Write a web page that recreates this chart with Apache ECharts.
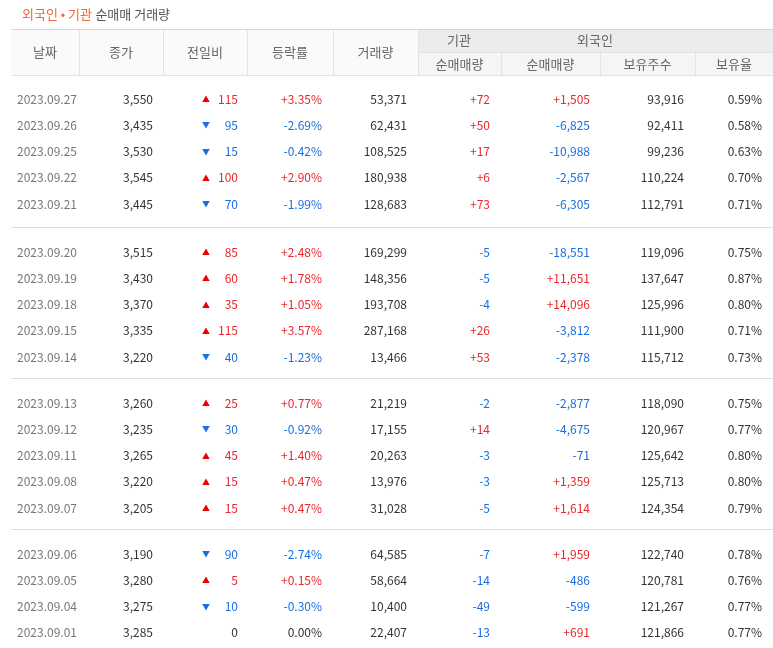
<!DOCTYPE html>
<html>
<head>
<meta charset="utf-8">
<script src="https://cdn.jsdelivr.net/npm/echarts@6/dist/echarts.min.js"></script>
</head>
<body style="margin:0;padding:0;background:#fff;">
<div id="main" style="width:773px;height:648px;"></div>
<script>
// 표 데이터
var dates = ['2023.09.27','2023.09.26','2023.09.25','2023.09.22','2023.09.21','2023.09.20','2023.09.19','2023.09.18','2023.09.15','2023.09.14','2023.09.13','2023.09.12','2023.09.11','2023.09.08','2023.09.07','2023.09.06','2023.09.05','2023.09.04','2023.09.01'];
var closes = [3550,3435,3530,3545,3445,3515,3430,3370,3335,3220,3260,3235,3265,3220,3205,3190,3280,3275,3285];
var changes = [115,-95,-15,100,-70,85,60,35,115,-40,25,-30,45,15,15,-90,5,-10,0];
var rates = [3.35,-2.69,-0.42,2.90,-1.99,2.48,1.78,1.05,3.57,-1.23,0.77,-0.92,1.40,0.47,0.47,-2.74,0.15,-0.30,0.00];
var volumes = [53371,62431,108525,180938,128683,169299,148356,193708,287168,13466,21219,17155,20263,13976,31028,64585,58664,10400,22407];
var instNet = [72,50,17,6,73,-5,-5,-4,26,53,-2,14,-3,-3,-5,-7,-14,-49,-13];
var forNet = [1505,-6825,-10988,-2567,-6305,-18551,11651,14096,-3812,-2378,-2877,-4675,-71,1359,1614,1959,-486,-599,691];
var forHold = [93916,92411,99236,110224,112791,119096,137647,125996,111900,115712,118090,120967,125642,125713,124354,122740,120781,121267,121866];
var forRatio = [0.59,0.58,0.63,0.70,0.71,0.75,0.87,0.80,0.71,0.73,0.75,0.77,0.80,0.80,0.79,0.78,0.76,0.77,0.77];

var RED = '#e8262c', BLUE = '#1a6fe0', GRAY = '#333', FONT = '"Noto Sans CJK KR", sans-serif';
function fmt(n) { return Math.abs(n).toLocaleString('en-US'); }
function sgn(n) { return n > 0 ? '+' + fmt(n) : n < 0 ? '-' + fmt(n) : '0'; }
function col(n) { return n > 0 ? RED : n < 0 ? BLUE : GRAY; }

var g = [];
function txt(x, y, s, color, align, size) {
    g.push({ type: 'text', x: x, y: y, style: { text: s, fill: color, align: align || 'right', verticalAlign: 'middle', font: (size || 12) + 'px ' + FONT } });
}
function rect(x, y, w, h, fill) { g.push({ type: 'rect', shape: { x: x, y: y, width: w, height: h }, style: { fill: fill } }); }
function line(x1, y1, x2, y2, c) { g.push({ type: 'line', shape: { x1: x1 + 0.5, y1: y1 + 0.5, x2: x2 + 0.5, y2: y2 + 0.5 }, style: { stroke: c, lineWidth: 1 } }); }

// 제목
g.push({ type: 'text', x: 22, y: 14, style: { rich: { a: { fill: '#f26a3d', font: '13px ' + FONT }, b: { fill: '#555', font: '13px ' + FONT } }, text: '{a|외국인 • 기관} {b|순매매 거래량}', verticalAlign: 'middle' } });

// 헤더
var cx = [11, 79, 163, 247, 333, 418, 501, 600, 695, 773];
rect(11, 29, 407, 46, '#fafafa');
rect(418, 29, 355, 23, '#ececec');
rect(418, 52, 355, 23, '#f5f5f5');
line(11, 29, 773, 29, '#d4d4d4');
line(11, 75, 773, 75, '#e2e2e2');
line(418, 52, 773, 52, '#e2e2e2');
for (var i = 1; i < cx.length - 1; i++) {
    line(cx[i], i >= 6 ? 52 : 29, cx[i], 75, '#e2e2e2');
}
var heads = ['날짜', '종가', '전일비', '등락률', '거래량'];
for (var i = 0; i < 5; i++) txt((cx[i] + cx[i + 1]) / 2, 52, heads[i], '#666', 'center', 13);
txt(459, 40, '기관', '#666', 'center', 13);
txt(595, 40, '외국인', '#666', 'center', 13);
var subs = ['순매매량', '순매매량', '보유주수', '보유율'];
for (var i = 0; i < 4; i++) txt((cx[i + 5] + cx[i + 6]) / 2, 64, subs[i], '#666', 'center', 13);

// 행
var groupTop = [99, 252, 403, 554];
for (var r = 0; r < dates.length; r++) {
    var gi = Math.floor(r / 5), y = groupTop[gi] + (r % 5) * 26.3;
    txt(17, y, dates[r], '#777', 'left', 12);
    txt(153, y, fmt(closes[r]), GRAY);
    var c = changes[r];
    if (c !== 0) txt(206, y, c > 0 ? '▲' : '▼', c > 0 ? '#e00' : BLUE, 'center', 8);
    txt(238, y, fmt(c), col(c));
    txt(322, y, (rates[r] > 0 ? '+' : '') + rates[r].toFixed(2) + '%', col(rates[r]));
    txt(407, y, fmt(volumes[r]), GRAY);
    txt(490, y, sgn(instNet[r]), col(instNet[r]));
    txt(590, y, sgn(forNet[r]), col(forNet[r]));
    txt(684, y, fmt(forHold[r]), GRAY);
    txt(762, y, forRatio[r].toFixed(2) + '%', GRAY);
}
[227, 378, 529].forEach(function (y) { line(11, y, 773, y, '#ddd'); });

var chart = echarts.init(document.getElementById('main'));
chart.setOption({ animation: false, graphic: g });
</script>
</body>
</html>
